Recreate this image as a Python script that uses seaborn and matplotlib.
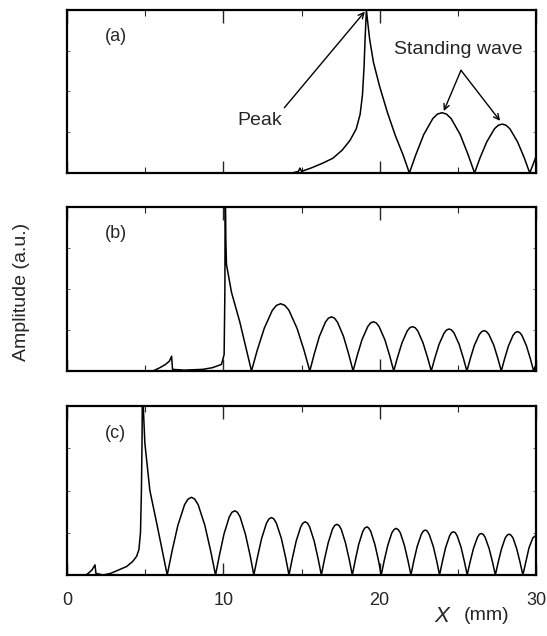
import matplotlib
matplotlib.use("Agg")
import matplotlib.pyplot as plt
import seaborn as sns

OUT_PATH = "out.png"

# panel (a): amplitude along x (mm)
A_X = [0, 14.4, 14.8, 14.9, 15.0, 15.6, 16.35, 17.0, 17.6, 18.1, 18.5, 18.75, 18.9, 19.0, 19.07, 19.15,
       19.23, 19.36, 19.6, 20.0, 20.5, 21.0, 21.5, 21.9,
       22.32, 22.82, 23.40, 23.69, 23.99, 24.28, 24.57, 25.15, 25.65, 26.07,
       26.42, 26.85, 27.34, 27.59, 27.84, 28.08, 28.33, 28.82, 29.25, 29.6,
       29.8, 30.0]
A_Y = [0, 0.0, 0.01, 0.03, 0.01, 0.03, 0.06, 0.09, 0.14, 0.2, 0.27, 0.36, 0.48, 0.65, 0.83, 1.0,
       0.93, 0.82, 0.68, 0.53, 0.37, 0.23, 0.11, 0.0,
       0.114, 0.236, 0.334, 0.361, 0.37, 0.361, 0.334, 0.236, 0.114, 0.0,
       0.093, 0.191, 0.271, 0.293, 0.30, 0.293, 0.271, 0.191, 0.093, 0.0,
       0.05, 0.1]

# panel (b)
B_X = [0, 5.5, 5.94, 6.3, 6.55, 6.69, 6.75, 7.5, 8.7, 9.3, 9.88, 10.05, 10.1, 10.12, 10.16, 10.2,
       10.52, 11.05, 11.45, 11.8,
       12.17, 12.62, 13.14, 13.40, 13.67, 13.93, 14.19, 14.71, 15.16, 15.53,
       15.81, 16.14, 16.53, 16.72, 16.92, 17.11, 17.30, 17.69, 18.02, 18.3,
       18.56, 18.87, 19.24, 19.42, 19.6, 19.78, 19.96, 20.33, 20.64, 20.9,
       21.14, 21.43, 21.76, 21.93, 22.1, 22.27, 22.44, 22.77, 23.06, 23.3,
       23.53, 23.80, 24.12, 24.28, 24.44, 24.60, 24.76, 25.08, 25.35, 25.58,
       25.80, 26.06, 26.37, 26.53, 26.68, 26.83, 26.99, 27.30, 27.56, 27.78,
       27.99, 28.24, 28.53, 28.67, 28.82, 28.96, 29.10, 29.39, 29.64, 29.85,
       30.0]
B_Y = [0, 0.0, 0.02, 0.04, 0.06, 0.09, 0.01, 0.005, 0.01, 0.02, 0.04, 0.1, 0.5, 1.2, 0.8, 0.65,
       0.48, 0.30, 0.14, 0.0,
       0.127, 0.261, 0.371, 0.400, 0.41, 0.400, 0.371, 0.261, 0.127, 0.0,
       0.102, 0.210, 0.298, 0.322, 0.33, 0.322, 0.298, 0.210, 0.102, 0.0,
       0.093, 0.191, 0.271, 0.293, 0.30, 0.293, 0.271, 0.191, 0.093, 0.0,
       0.083, 0.172, 0.244, 0.264, 0.27, 0.264, 0.244, 0.172, 0.083, 0.0,
       0.079, 0.163, 0.231, 0.250, 0.256, 0.250, 0.231, 0.163, 0.079, 0.0,
       0.076, 0.157, 0.222, 0.240, 0.246, 0.240, 0.222, 0.157, 0.076, 0.0,
       0.074, 0.153, 0.217, 0.234, 0.24, 0.234, 0.217, 0.153, 0.074, 0.0,
       0.04]

# panel (c)
C_X = [0, 1.2, 1.36, 1.6, 1.79, 1.85, 2.3, 2.8, 3.3, 3.81, 4.2, 4.45, 4.6, 4.7, 4.76, 4.8, 4.83,
       4.9, 4.98, 5.3, 5.73, 6.1, 6.41,
       6.72, 7.09, 7.52, 7.74, 7.96, 8.17, 8.39, 8.82, 9.19, 9.5,
       9.75, 10.04, 10.38, 10.55, 10.73, 10.90, 11.07, 11.41, 11.71, 11.95,
       12.18, 12.45, 12.76, 12.92, 13.08, 13.23, 13.39, 13.71, 13.98, 14.2,
       14.41, 14.66, 14.95, 15.09, 15.24, 15.38, 15.52, 15.81, 16.06, 16.27,
       16.47, 16.71, 16.98, 17.12, 17.26, 17.40, 17.54, 17.81, 18.05, 18.25,
       18.44, 18.66, 18.92, 19.05, 19.18, 19.30, 19.43, 19.69, 19.92, 20.1,
       20.29, 20.52, 20.78, 20.92, 21.05, 21.18, 21.32, 21.58, 21.81, 22.0,
       22.18, 22.40, 22.66, 22.79, 22.92, 23.04, 23.17, 23.43, 23.65, 23.83,
       24.01, 24.22, 24.47, 24.59, 24.72, 24.84, 24.96, 25.21, 25.42, 25.6,
       25.78, 26.0, 26.25, 26.37, 26.5, 26.63, 26.75, 27.0, 27.22, 27.4,
       27.58, 27.79, 28.03, 28.16, 28.28, 28.40, 28.53, 28.77, 28.98, 29.16,
       29.35, 29.55, 29.8, 30.0]
C_Y = [0, 0.0, 0.01, 0.03, 0.06, 0.01, 0.0, 0.01, 0.03, 0.05, 0.08, 0.11, 0.15, 0.25, 0.5, 0.8, 1.2,
       0.95, 0.78, 0.50, 0.31, 0.14, 0.0,
       0.142, 0.293, 0.416, 0.449, 0.46, 0.449, 0.416, 0.293, 0.142, 0.0,
       0.117, 0.242, 0.344, 0.371, 0.38, 0.371, 0.344, 0.242, 0.117, 0.0,
       0.105, 0.217, 0.307, 0.332, 0.34, 0.332, 0.307, 0.217, 0.105, 0.0,
       0.097, 0.201, 0.285, 0.307, 0.315, 0.307, 0.285, 0.201, 0.097, 0.0,
       0.093, 0.191, 0.271, 0.293, 0.30, 0.293, 0.271, 0.191, 0.093, 0.0,
       0.088, 0.182, 0.258, 0.278, 0.285, 0.278, 0.258, 0.182, 0.088, 0.0,
       0.085, 0.176, 0.250, 0.269, 0.276, 0.269, 0.250, 0.176, 0.085, 0.0,
       0.082, 0.169, 0.240, 0.260, 0.266, 0.260, 0.240, 0.169, 0.082, 0.0,
       0.079, 0.163, 0.231, 0.250, 0.256, 0.250, 0.231, 0.163, 0.079, 0.0,
       0.076, 0.157, 0.222, 0.240, 0.246, 0.240, 0.222, 0.157, 0.076, 0.0,
       0.075, 0.154, 0.219, 0.236, 0.242, 0.236, 0.219, 0.154, 0.075, 0.0,
       0.077, 0.16, 0.22, 0.235]

PANEL_LABELS = ["(a)", "(b)", "(c)"]
X_TICKS = [0, 10, 20, 30]
X_MINOR = [5, 15, 25]

# axes rectangles (figure fraction): left, bottom, width, height
RECTS = [
    [0.1225, 0.728, 0.8574, 0.2563],
    [0.1225, 0.4167, 0.8574, 0.2579],
    [0.1225, 0.0959, 0.8574, 0.2657],
]


def style_axis(ax, show_labels):
    ax.set_xlim(0, 30)
    ax.set_ylim(0, 1)
    ax.set_xticks(X_TICKS)
    ax.set_xticks(X_MINOR, minor=True)
    ax.set_yticks([0.25, 0.5, 0.75])
    ax.tick_params(axis="x", which="major", direction="in", length=9, width=1,
                   top=True, bottom=True, labelsize=13, pad=12, labelbottom=show_labels)
    ax.tick_params(axis="x", which="minor", direction="in", length=4, width=0.8,
                   top=True, bottom=True)
    ax.tick_params(axis="y", which="major", direction="in", length=2, width=0.5,
                   left=True, right=True, labelleft=False)
    for sp in ax.spines.values():
        sp.set_visible(True)
        sp.set_linewidth(1.6)
        sp.set_color("black")
    ax.set_xlabel("")
    ax.set_ylabel("")


def main():
    sns.set_style("ticks")
    plt.rcParams["font.family"] = ["Liberation Sans", "DejaVu Sans"]

    fig = plt.figure(figsize=(5.47, 6.36), dpi=100)
    data = [(A_X, A_Y), (B_X, B_Y), (C_X, C_Y)]
    axes = []
    for i, (xs, ys) in enumerate(data):
        ax = fig.add_axes(RECTS[i])
        sns.lineplot(x=xs, y=ys, ax=ax, sort=False, estimator=None,
                     color="black", linewidth=1.1)
        style_axis(ax, show_labels=(i == 2))
        ax.text(0.104, 0.84, PANEL_LABELS[i], transform=ax.transAxes,
                fontsize=13, ha="center", va="center")
        axes.append(ax)

    ax = axes[0]
    arrow = dict(arrowstyle="->", color="black", lw=1.0, shrinkA=0, shrinkB=0)
    ax.annotate("", xy=(19.05, 0.99), xytext=(13.9, 0.40), arrowprops=arrow)
    ax.text(12.3, 0.32, "Peak", fontsize=14, ha="center", va="center")
    ax.text(25.0, 0.76, "Standing wave", fontsize=14, ha="center", va="center")
    ax.annotate("", xy=(24.1, 0.38), xytext=(25.2, 0.63), arrowprops=arrow)
    ax.annotate("", xy=(27.7, 0.32), xytext=(25.2, 0.63), arrowprops=arrow)

    fig.text(22 / 547, 1 - 292 / 636, "Amplitude (a.u.)", rotation=90,
             fontsize=14, ha="center", va="center")
    fig.text(442 / 547, 1 - 616 / 636, "X", fontsize=16, style="italic",
             ha="center", va="center")
    fig.text(487 / 547, 1 - 615 / 636, "(mm)", fontsize=14,
             ha="center", va="center")

    fig.savefig(OUT_PATH, dpi=100)
    plt.close(fig)


if __name__ == "__main__":
    main()
